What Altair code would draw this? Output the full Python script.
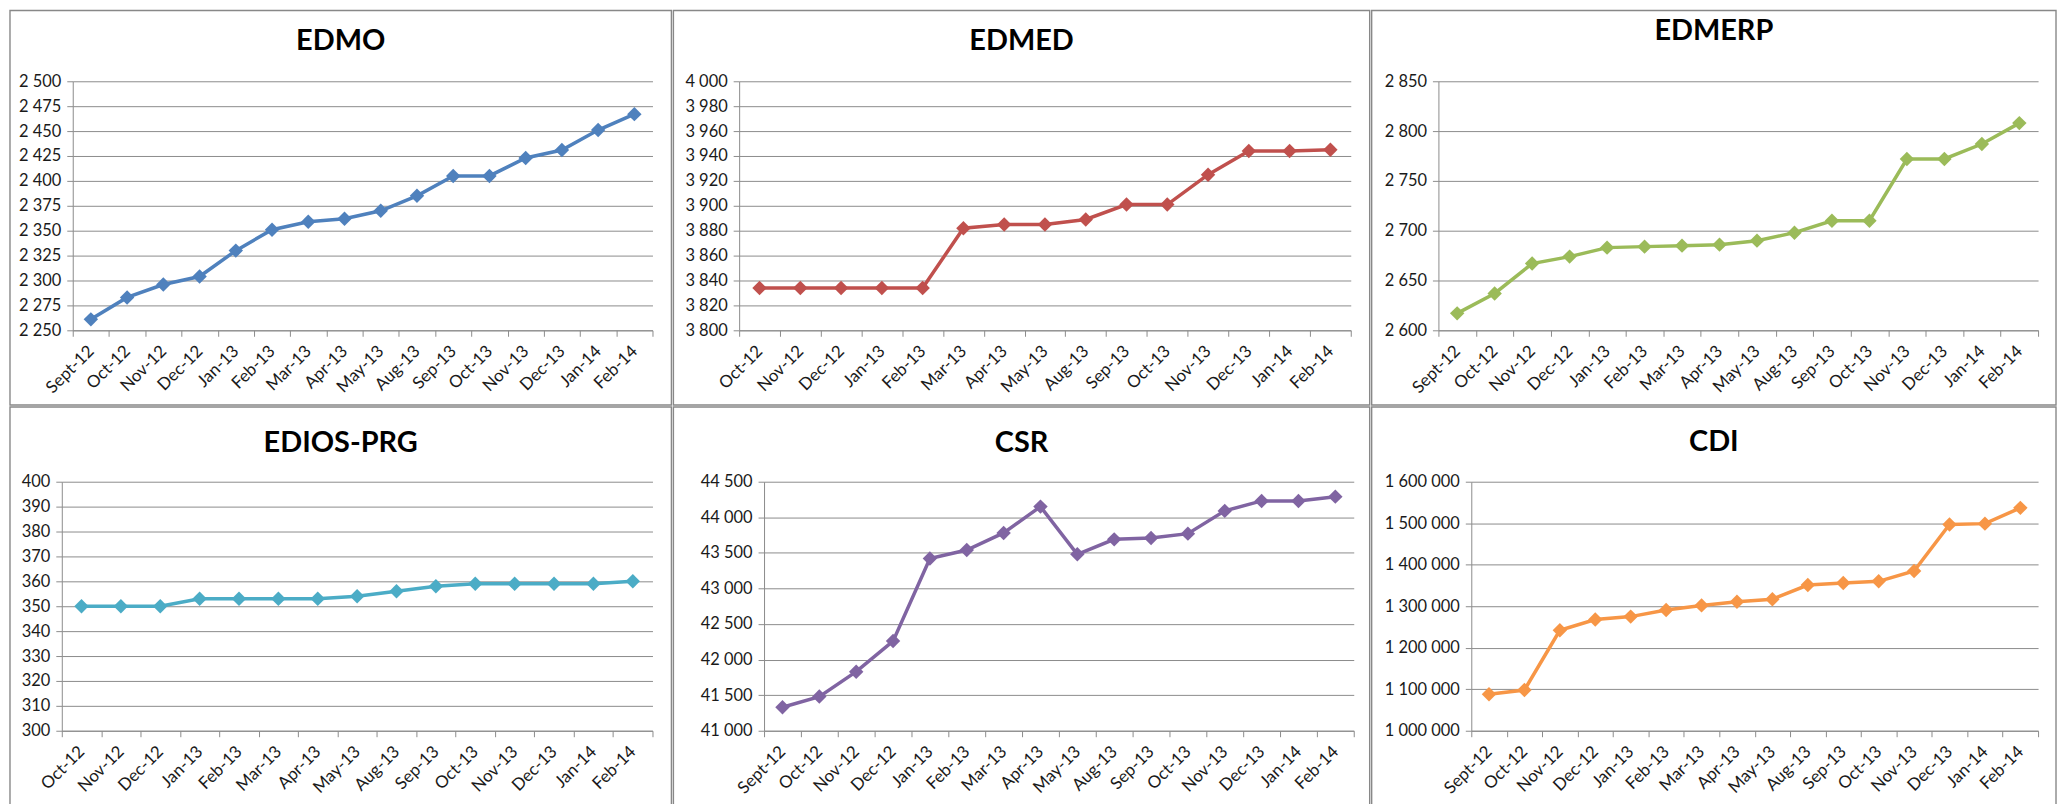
import altair as alt
import pandas as pd

months16 = ["Sept-12", "Oct-12", "Nov-12", "Dec-12", "Jan-13", "Feb-13", "Mar-13", "Apr-13",
            "May-13", "Aug-13", "Sep-13", "Oct-13", "Nov-13", "Dec-13", "Jan-14", "Feb-14"]
months15 = ["Oct-12", "Nov-12", "Dec-12", "Jan-13", "Feb-13", "Mar-13", "Apr-13",
            "May-13", "Aug-13", "Sep-13", "Oct-13", "Nov-13", "Dec-13", "Jan-14", "Feb-14"]

edmo = [2261, 2283, 2296, 2304, 2330, 2351, 2359, 2362, 2370, 2385, 2405, 2405, 2423, 2431, 2451, 2467]
edmed = [3834, 3834, 3834, 3834, 3834, 3882, 3885, 3885, 3889, 3901, 3901, 3925, 3944, 3944, 3945]
edmerp = [2617, 2637, 2667, 2674, 2683, 2684, 2685, 2686, 2690, 2698, 2710, 2710, 2772, 2772, 2787, 2808]
edios = [350, 350, 350, 353, 353, 353, 353, 354, 356, 358, 359, 359, 359, 359, 360]
csr = [41330, 41480, 41830, 42260, 43420, 43540, 43780, 44150, 43480, 43690, 43710, 43770,
       44090, 44230, 44230, 44290]
cdi = [1088000, 1098000, 1242000, 1268000, 1275000, 1291000, 1302000, 1311000, 1317000,
       1351000, 1356000, 1360000, 1385000, 1497000, 1499000, 1537000]

ticks_edmo = [2250, 2275, 2300, 2325, 2350, 2375, 2400, 2425, 2450, 2475, 2500]
ticks_edmed = [3800, 3820, 3840, 3860, 3880, 3900, 3920, 3940, 3960, 3980, 4000]
ticks_edmerp = [2600, 2650, 2700, 2750, 2800, 2850]
ticks_edios = [300, 310, 320, 330, 340, 350, 360, 370, 380, 390, 400]
ticks_csr = [41000, 41500, 42000, 42500, 43000, 43500, 44000, 44500]
ticks_cdi = [1000000, 1100000, 1200000, 1300000, 1400000, 1500000, 1600000]

FONT = "Lato"
GRID = "#8c8c8c"
BORDER = "#888888"
ONE = [{"k": 1}]


def panel(title, cats, vals, color, ticks, width, L, R, T, B, title_y, height=250):
    df = pd.DataFrame({"month": cats, "value": vals})
    x = alt.X("month:N", sort=cats, bandPosition=0.5,
              scale=alt.Scale(type="band", paddingInner=0, paddingOuter=0),
              axis=alt.Axis(title=None, labelAngle=-45, labelAlign="right",
                            labelBaseline="middle", tickBand="extent", labelOverlap=False,
                            labelPadding=12, tickSize=6, grid=False, labelFontSize=17))
    y = alt.Y("value:Q", scale=alt.Scale(domain=[ticks[0], ticks[-1]], nice=False, zero=False),
              axis=alt.Axis(title=None, values=ticks,
                            labelExpr="replace(format(datum.value, ','), regexp(',', 'g'), ' ')",
                            tickSize=6, labelPadding=6, grid=True, labelFontSize=16.5))
    base = alt.Chart(df).encode(x=x, y=y)
    line = base.mark_line(color=color, strokeWidth=3.5)
    pts = base.mark_point(shape="diamond", filled=True, size=210, color=color, opacity=1)
    border = alt.Chart(alt.Data(values=ONE)).mark_rect(
        fill="transparent", stroke=BORDER, strokeWidth=1.4).encode(
        x=alt.value(-L), x2=alt.value(width + R), y=alt.value(-T), y2=alt.value(height + B))
    ttl = alt.Chart(alt.Data(values=ONE)).mark_text(
        text=title, font=FONT, fontSize=29, fontWeight="bold", color="black",
        align="center", baseline="alphabetic").encode(
        x=alt.value((width + R - L) / 2), y=alt.value(title_y))
    return alt.layer(border, line, pts, ttl).properties(width=width, height=height)


def spacer():
    return alt.Chart(alt.Data(values=ONE)).mark_rect(opacity=0).encode(
        x=alt.value(0), x2=alt.value(0), y=alt.value(0), y2=alt.value(0)
    ).properties(width=1, height=1)


p1 = panel("EDMO", months16, edmo, "#4F81BD", ticks_edmo, 582, 63, 19, 71, 75, -31)
p2 = panel("EDMED", months15, edmed, "#C0504D", ticks_edmed, 614, 66, 19, 71, 75, -31)
p3 = panel("EDMERP", months16, edmerp, "#9BBB59", ticks_edmerp, 602, 67, 18, 71, 75, -41)
p4 = panel("EDIOS-PRG", months15, edios, "#4BACC6", ticks_edios, 593, 52, 19, 75, 76, -30)
p5 = panel("CSR", months16, csr, "#8064A2", ticks_csr, 592, 91, 16, 75, 76, -30)
p6 = panel("CDI", months16, cdi, "#F79646", ticks_cdi, 569, 100, 18, 75, 76, -31)

chart = alt.vconcat(
    alt.hconcat(spacer(), p1, p2, p3, spacing=0),
    alt.hconcat(spacer(), p4, p5, p6, spacing=0),
    spacing=0,
).properties(padding=0, background="white").configure_view(strokeWidth=0).configure_axis(
    domainColor=GRID, tickColor=GRID, gridColor=GRID, gridWidth=1, domainWidth=1,
    labelFont=FONT, labelColor="#1a1a1a",
)

chart.save("out.html", embed_options={"renderer": "svg", "actions": False})
